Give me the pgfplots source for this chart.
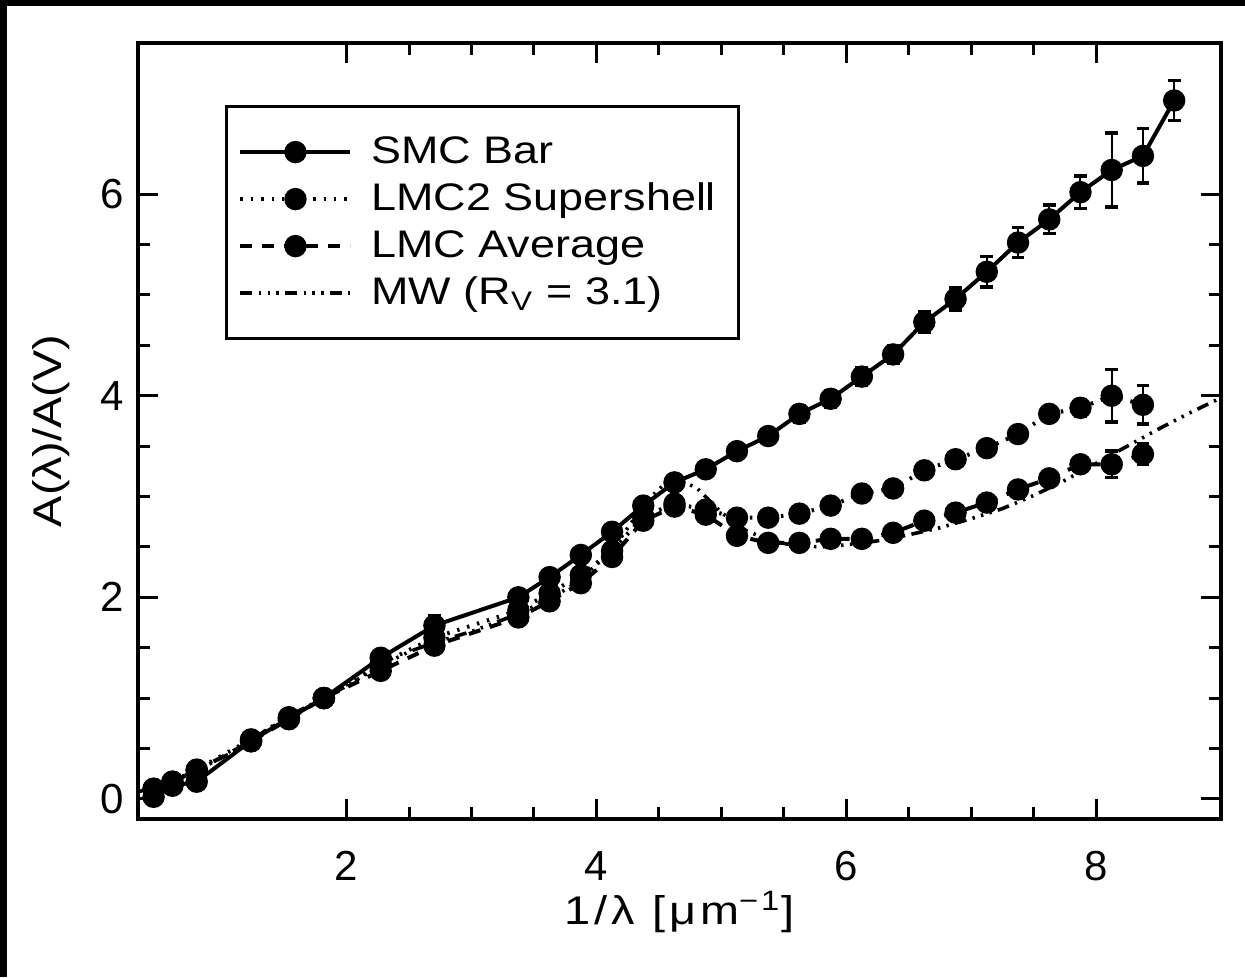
\documentclass[border=0pt]{standalone}
\usepackage{pgfplots}
\pgfplotsset{compat=1.18}
\usepackage{fontspec}
\setmainfont{Liberation Sans}
\newfontfamily\wide{Liberation Sans}[FakeStretch=1.17]
\newfontfamily\widels{Liberation Sans}[FakeStretch=1.17, LetterSpace=10]

\pgfplotstableread{
x y e
0.455 0.02 0.04
0.606 0.13 0.04
0.800 0.17 0.04
1.235 0.575 0.04
1.538 0.80 0.06
1.818 1.00 0.00
2.273 1.40 0.07
2.703 1.72 0.10
3.375 2.00 0.07
3.625 2.20 0.07
3.875 2.42 0.07
4.125 2.65 0.07
4.375 2.91 0.07
4.625 3.14 0.08
4.875 3.27 0.07
5.125 3.45 0.07
5.375 3.60 0.07
5.625 3.82 0.08
5.875 3.97 0.08
6.125 4.19 0.09
6.375 4.41 0.09
6.625 4.73 0.10
6.875 4.96 0.11
7.125 5.23 0.15
7.375 5.52 0.15
7.625 5.75 0.14
7.875 6.02 0.16
8.125 6.24 0.37
8.375 6.38 0.27
8.625 6.93 0.20
}\smcbar

\pgfplotstableread{
x y e
0.455 0.10 0.03
0.606 0.17 0.03
0.800 0.29 0.03
1.235 0.59 0.03
1.538 0.81 0.03
1.818 1.00 0.00
2.273 1.34 0.04
2.703 1.60 0.05
3.375 1.87 0.05
3.625 2.04 0.05
3.875 2.22 0.05
4.125 2.46 0.05
4.375 2.80 0.05
4.625 2.93 0.05
4.875 2.87 0.05
5.125 2.79 0.05
5.375 2.79 0.05
5.625 2.83 0.05
5.875 2.91 0.05
6.125 3.03 0.06
6.375 3.08 0.06
6.625 3.26 0.06
6.875 3.37 0.07
7.125 3.48 0.07
7.375 3.62 0.07
7.625 3.82 0.07
7.875 3.88 0.08
8.125 4.00 0.26
8.375 3.91 0.19
}\lmctwo

\pgfplotstableread{
x y e
0.455 0.10 0.02
0.606 0.17 0.02
0.800 0.28 0.02
1.235 0.57 0.02
1.538 0.79 0.02
1.818 1.00 0.00
2.273 1.27 0.03
2.703 1.52 0.04
3.375 1.80 0.04
3.625 1.96 0.04
3.875 2.14 0.04
4.125 2.40 0.04
4.375 2.76 0.04
4.625 2.90 0.05
4.875 2.82 0.05
5.125 2.61 0.04
5.375 2.54 0.04
5.625 2.54 0.04
5.875 2.58 0.04
6.125 2.58 0.04
6.375 2.64 0.04
6.625 2.76 0.04
6.875 2.84 0.05
7.125 2.94 0.05
7.375 3.07 0.05
7.625 3.18 0.05
7.875 3.32 0.06
8.125 3.32 0.13
8.375 3.42 0.10
}\lmcavg

\pgfplotstableread{
x y
0.30 0.058
0.455 0.114
0.606 0.178
0.80 0.282
1.10 0.471
1.50 0.80
1.82 1.00
2.00 1.12
2.27 1.32
2.50 1.46
2.70 1.55
3.00 1.66
3.30 1.80
3.40 1.85
3.60 1.97
3.80 2.11
4.00 2.32
4.20 2.60
4.40 2.95
4.60 3.19
4.80 3.09
5.00 2.84
5.20 2.66
5.40 2.56
5.60 2.51
5.80 2.50
6.00 2.52
6.25 2.56
6.50 2.62
6.75 2.69
7.00 2.78
7.25 2.88
7.50 3.01
7.75 3.16
8.00 3.33
8.25 3.50
8.50 3.67
8.75 3.83
9.00 3.98
}\mw

\begin{document}
\begin{tikzpicture}
\fill[black] (0,0) rectangle (311.25pt,244.25pt);
\fill[white] (1.75pt,0pt) rectangle (311.25pt,242.75pt);
\begin{axis}[
  at={(34.5pt,39.5pt)}, anchor=south west,
  scale only axis, width=270.75pt, height=194pt,
  xmin=0.33, xmax=9, ymin=-0.2, ymax=7.5,
  xtick={2,4,6,8}, ytick={0,2,4,6},
  minor x tick num=3, minor y tick num=3,
  tick align=inside,
  major tick length=5pt, minor tick length=3pt,
  tick style={black, line width=0.75pt},
  axis line style={line width=1pt},
  /pgf/number format/assume math mode=true,
  ticklabel style={font=\fontsize{10.5}{12}\selectfont},
  xticklabel style={yshift=-4.5pt},
  label style={font=\wide\fontsize{10}{12}\selectfont},
  xlabel={\widels 1/λ [μm\textsuperscript{−1}]},
  ylabel={A(λ)/A(V)},
  xlabel style={at={(axis description cs:0.5,-0.12)}, anchor=center},
  ylabel style={at={(axis description cs:-0.08,0.5)}, anchor=center},
  legend style={at={(axis description cs:0.0803,0.920)}, anchor=north west,
    draw=black, line width=0.75pt, fill=white,
    inner xsep=3pt, inner ysep=5.5pt, row sep=0pt, column sep=2.25pt,
    font=\wide\fontsize{9.6}{11}\selectfont,
    nodes={inner xsep=2.5pt, inner ysep=1.125pt, text height=7.5pt, text depth=2pt},
    cells={anchor=west}},
  legend image code/.code={\draw[mark repeat=2,mark phase=2,#1] plot coordinates {(0pt,0pt) (13.75pt,0pt) (27.5pt,0pt)};},
]
\addplot[black, line width=1pt, mark=*, mark size=2.3pt, mark options={solid},
  error bars/.cd, y dir=both, y explicit,
  error bar style={line width=0.5pt, solid},
  error mark options={rotate=90, mark size=1.6pt, line width=0.9pt, solid}]
  table[x=x, y=y, y error=e] {\smcbar};
\addlegendentry{SMC Bar}
\addplot[black, line width=1pt, dash pattern=on 0.6pt off 2pt, mark=*, mark size=2.3pt, mark options={solid},
  error bars/.cd, y dir=both, y explicit,
  error bar style={line width=0.5pt, solid},
  error mark options={rotate=90, mark size=1.6pt, line width=0.9pt, solid}]
  table[x=x, y=y, y error=e] {\lmctwo};
\addlegendentry{LMC2 Supershell}
\addplot[black, line width=1pt, dash pattern=on 3pt off 2.5pt, mark=*, mark size=2.3pt, mark options={solid},
  error bars/.cd, y dir=both, y explicit,
  error bar style={line width=0.5pt, solid},
  error mark options={rotate=90, mark size=1.6pt, line width=0.9pt, solid}]
  table[x=x, y=y, y error=e] {\lmcavg};
\addlegendentry{LMC Average}
\addplot[black, line width=0.9pt, mark=none,
  dash pattern=on 3pt off 1.6pt on 0.6pt off 1.6pt on 0.6pt off 1.6pt on 0.6pt off 1.6pt]
  table[x=x, y=y] {\mw};
\addlegendentry{MW (R\textsubscript{V} = 3.1)}
\end{axis}
\pgfresetboundingbox
\path[use as bounding box] (0,0) rectangle (311.25pt,244.25pt);
\end{tikzpicture}
\end{document}
